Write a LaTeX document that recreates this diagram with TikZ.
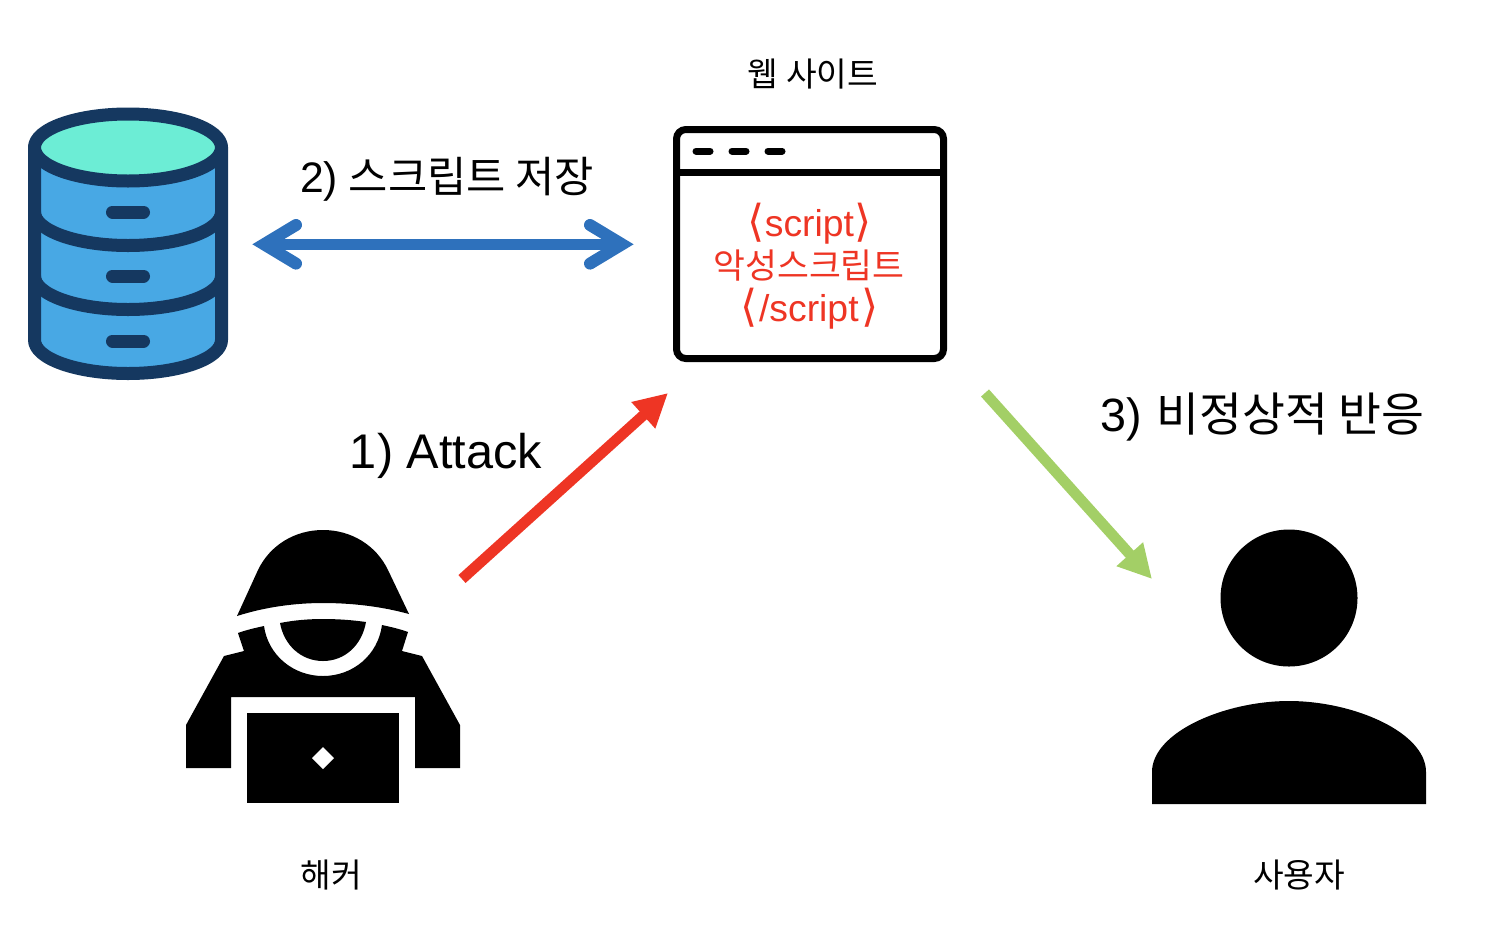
\documentclass[tikz,border=0pt]{standalone}
\usepackage{fontspec}
\usetikzlibrary{arrows.meta}
\setmainfont{Noto Sans CJK KR}
\newfontfamily\brk{DejaVu Sans}
\newfontfamily\lat{Liberation Sans}
\definecolor{dbdark}{HTML}{153860}
\definecolor{dbblue}{HTML}{48A8E4}
\definecolor{dbteal}{HTML}{6CEDD5}
\definecolor{arblue}{HTML}{2E71BC}
\definecolor{arred}{HTML}{EE3524}
\definecolor{argreen}{HTML}{A3CF66}
\newcommand{\lb}{{\brk\fontsize{33}{33}\selectfont\char"27E8}}
\newcommand{\rb}{{\brk\fontsize{33}{33}\selectfont\char"27E9}}
\tikzset{
  lab/.style={inner sep=0pt,text=black,font=\fontsize{#1}{#1}\selectfont},
  redlab/.style={inner sep=0pt,text=arred,font=\fontsize{26}{26}\selectfont},
  dbline/.style={draw=dbdark,line width=9.75pt,line join=round},
  pill/.style={dbdark,line width=9.75pt,line cap=round},
  dashpill/.style={black,line width=5.25pt,line cap=round},
  barb/.style={arblue,line width=9pt,line cap=round,line join=miter,miter limit=10},
  headed/.style={line width=8pt,-{Triangle[length=25pt,width=25pt]}}
}
\begin{document}
\begin{tikzpicture}[x=0.75pt,y=-0.75pt]
\useasboundingbox (0,0) rectangle (1494,950);
% database
\path[fill=dbblue,dbline] (34.5,147) -- (34.5,340) arc[start angle=180,end angle=0,x radius=93.5,y radius=33.5] -- (221.5,147) -- cycle;
\draw[dbline] (34.5,212) arc[start angle=180,end angle=0,x radius=93.5,y radius=33.5];
\draw[dbline] (34.5,276) arc[start angle=180,end angle=0,x radius=93.5,y radius=33.5];
\path[fill=dbteal,dbline] (128,147.5) ellipse[x radius=93.5,y radius=33.5];
\draw[pill] (112.5,212) -- (143.5,212);
\draw[pill] (112.5,276) -- (143.5,276);
\draw[pill] (112.5,341) -- (143.5,341);
% browser
\draw[black,line width=5.25pt,rounded corners=7pt] (676.5,129.5) rectangle (943.5,358.5);
\draw[black,line width=5.25pt] (676.5,172) -- (943.5,172);
\draw[dashpill] (696,151) -- (710,151);
\draw[dashpill] (732,151) -- (746,151);
\draw[dashpill] (768,151) -- (782,151);
\node[redlab] (s1) at (809.5,224) {\lb\lat\fontsize{28}{28}\selectfont script\rb};
\node[redlab] (s2) at (809,266) {악성스크립트};
\node[redlab] (s3) at (809.5,309) {\lb\kern1pt\lat\fontsize{28}{28}\selectfont /script\kern2pt\rb};
% hacker
\fill[black] (237,616) -- (258,570) .. controls (270,545) and (295,530) .. (323,530) .. controls (351,530) and (376,545) .. (388,570) -- (409,614) .. controls (380,606) and (350,603) .. (323,603) .. controls (295,603) and (265,607) .. (237,616) -- cycle;
\fill[black] (238,633) .. controls (246,630) and (255,628) .. (264,626) .. controls (268,655) and (293,676) .. (323,676) .. controls (353,676) and (378,655) .. (382,625) .. controls (391,627) and (400,629) .. (408,632) -- (402,651) -- (422,656) -- (460,725) -- (460,768) -- (415,768) -- (415,697) -- (231,697) -- (231,768) -- (186,768) -- (186,725) -- (224,656) -- (244,651) -- cycle;
\fill[black] (280,623) .. controls (295,620) and (310,619) .. (323,619) .. controls (338,619) and (352,620) .. (366,622) .. controls (362,645) and (345,661) .. (323,661) .. controls (301,661) and (284,645) .. (280,623) -- cycle;
\fill[black] (247,713) rectangle (399,803);
\fill[white] (323,747) -- (334,758) -- (323,769) -- (312,758) -- cycle;
% user
\fill[black] (1289,598) circle[radius=68.5];
\fill[black] (1152,804) -- (1152,772) .. controls (1152,732) and (1225,701) .. (1289,701) .. controls (1353,701) and (1426,732) .. (1426,772) -- (1426,804) -- cycle;
% connectors
\coordinate (dbR) at (264,244.3);
\coordinate (webL) at (622,244.3);
\coordinate (hackR) at (462,579);
\coordinate (webB) at (668,393);
\coordinate (webR) at (985,393);
\coordinate (userL) at (1152,579);
\draw[arblue,line width=8.25pt] (dbR) -- (webL);
\draw[barb] (296,225) -- (dbR) -- (296,263.6);
\draw[barb] (590,225) -- (webL) -- (590,263.6);
\draw[arred,headed] (hackR) -- (webB);
\draw[argreen,headed] (webR) -- (userL);
% labels
\node[lab=25] (web) at (813,74) {웹 사이트};
\node[lab=32] (l2) at (447,179) {{\lat 2)}\kern1pt\ 스크립트 저장};
\node[lab=36.5] (l1) at (446,456) {\lat 1) Attack};
\node[lab=35] (l3) at (1262.5,417) {{\lat 3)}\kern3pt\ 비정상적 반응};
\node[lab=25] (hk) at (331,874.5) {해커};
\node[lab=25] (us) at (1299,874.5) {사용자};
\end{tikzpicture}
\end{document}
